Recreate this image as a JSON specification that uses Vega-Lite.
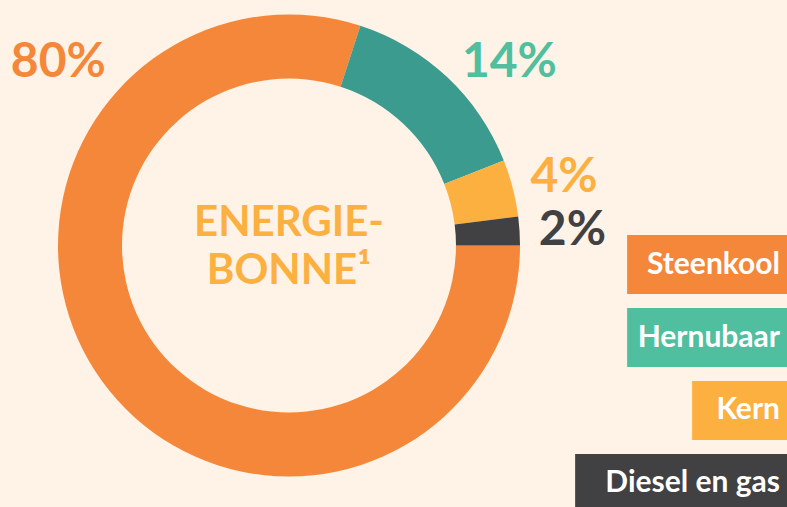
{
  "$schema": "https://vega.github.io/schema/vega-lite/v6.json",
  "background": "#FEF3E6",
  "padding": 0,
  "spacing": 0,
  "bounds": "flush",
  "config": {"view": {"stroke": null}, "font": "Lato"},
  "datasets": {
    "energie": [
      {"bron": "Steenkool", "pct": 80, "label": "80%"},
      {"bron": "Hernubaar", "pct": 14, "label": "14%"},
      {"bron": "Kern", "pct": 4, "label": "4%"},
      {"bron": "Diesel en gas", "pct": 2, "label": "2%"}
    ],
    "midden": [{"tekst": "ENERGIE-\nBONNE¹"}]
  },
  "hconcat": [
    {
      "width": 578,
      "height": 491,
      "layer": [
        {
          "data": {"name": "energie"},
          "mark": {"type": "arc", "outerRadius": 231, "innerRadius": 167},
          "encoding": {
            "theta": {"field": "pct", "type": "quantitative", "stack": true, "scale": {"domain": [0, 100], "range": [1.5708, 7.854]}},
            "order": {"field": "pct", "sort": "descending"},
            "color": {"field": "bron", "type": "nominal", "legend": null, "scale": {"domain": ["Steenkool", "Hernubaar", "Kern", "Diesel en gas"], "range": ["#F5873A", "#3A9B8E", "#FBB040", "#414042"]}}
          }
        },
        {
          "data": {"name": "energie"},
          "mark": {"type": "text", "radius": 284, "dy": 3, "fontSize": 48, "fontWeight": "bold", "baseline": "middle", "align": "center"},
          "encoding": {
            "theta": {"field": "pct", "type": "quantitative", "stack": true},
            "order": {"field": "pct", "sort": "descending"},
            "text": {"condition": {"test": "datum.pct < 10", "field": "label"}, "value": ""},
            "color": {"field": "bron", "type": "nominal", "legend": null, "scale": {"domain": ["Steenkool", "Hernubaar", "Kern", "Diesel en gas"], "range": ["#F5873A", "#4FBF9F", "#FBB040", "#414042"]}}
          }
        },
        {
          "data": {"name": "energie"},
          "mark": {"type": "text", "radius": 284, "dx": 26, "dy": 25, "fontSize": 48, "fontWeight": "bold", "baseline": "middle", "align": "center"},
          "encoding": {
            "theta": {"field": "pct", "type": "quantitative", "stack": true},
            "order": {"field": "pct", "sort": "descending"},
            "text": {"condition": {"test": "datum.pct >= 10 && datum.pct < 50", "field": "label"}, "value": ""},
            "color": {"field": "bron", "type": "nominal", "legend": null, "scale": {"domain": ["Steenkool", "Hernubaar", "Kern", "Diesel en gas"], "range": ["#F5873A", "#4FBF9F", "#FBB040", "#414042"]}}
          }
        },
        {
          "data": {"name": "energie"},
          "mark": {"type": "text", "radius": 295, "dx": 8, "dy": -9, "fontSize": 48, "fontWeight": "bold", "baseline": "middle", "align": "center"},
          "encoding": {
            "theta": {"field": "pct", "type": "quantitative", "stack": true},
            "order": {"field": "pct", "sort": "ascending"},
            "text": {"condition": {"test": "datum.pct >= 50", "field": "label"}, "value": ""},
            "color": {"field": "bron", "type": "nominal", "legend": null, "scale": {"domain": ["Steenkool", "Hernubaar", "Kern", "Diesel en gas"], "range": ["#F5873A", "#4FBF9F", "#FBB040", "#414042"]}}
          }
        },
        {
          "data": {"name": "midden"},
          "mark": {"type": "text", "fontSize": 42, "fontWeight": "bold", "color": "#FBB040", "lineBreak": "\n", "lineHeight": 48, "baseline": "middle", "align": "center", "dy": -23},
          "encoding": {"text": {"field": "tekst"}}
        }
      ],
      "resolve": {"scale": {"color": "independent"}}
    },
    {
      "width": 209,
      "height": 513,
      "data": {"name": "energie"},
      "transform": [{"calculate": "length(datum.bron) + 3.3", "as": "breedte"}],
      "encoding": {
        "y": {"field": "bron", "type": "nominal", "sort": ["Steenkool", "Hernubaar", "Kern", "Diesel en gas"], "axis": null, "scale": {"range": [235, 513], "paddingInner": 0.19, "paddingOuter": 0}}
      },
      "layer": [
        {
          "mark": {"type": "bar"},
          "encoding": {
            "x": {"field": "breedte", "type": "quantitative", "axis": null, "scale": {"domain": [0, 16.08], "nice": false, "zero": true, "reverse": true}},
            "color": {"field": "bron", "type": "nominal", "legend": null, "scale": {"domain": ["Steenkool", "Hernubaar", "Kern", "Diesel en gas"], "range": ["#F5873A", "#4FBF9F", "#FBB040", "#414042"]}}
          }
        },
        {
          "mark": {"type": "text", "align": "right", "baseline": "middle", "dx": -7, "fontSize": 30, "fontWeight": "bold", "color": "white"},
          "encoding": {
            "x": {"datum": 0, "type": "quantitative"},
            "text": {"field": "bron"}
          }
        }
      ]
    }
  ]
}
